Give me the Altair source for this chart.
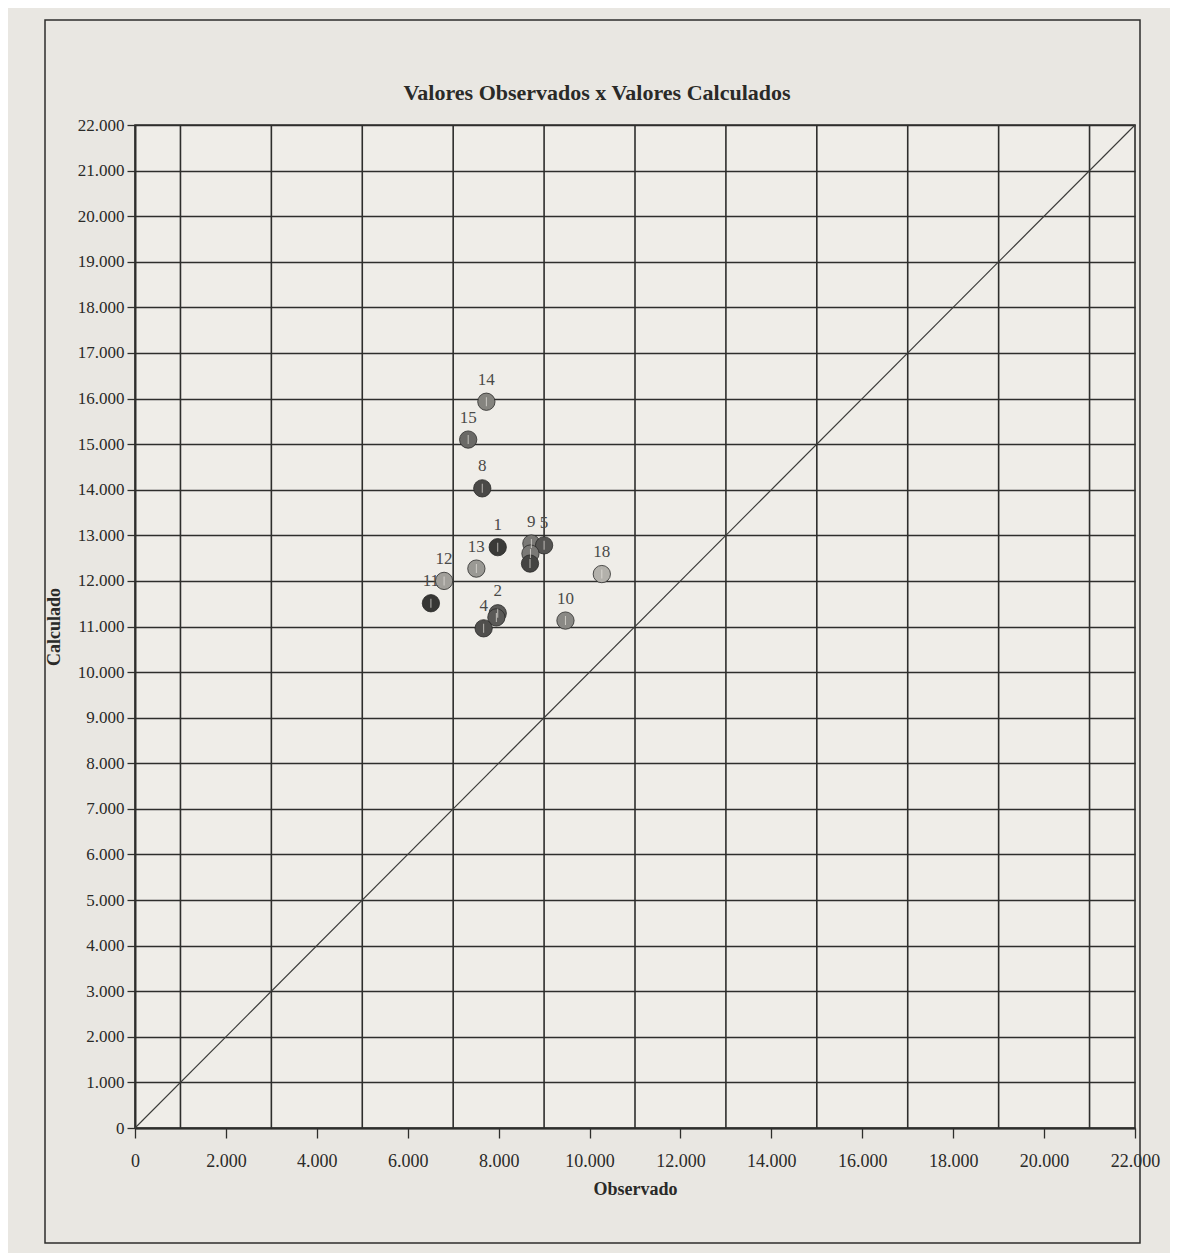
import altair as alt
import pandas as pd

# Point data
ids = ["14", "15", "8", "1", "13", "12", "11", "2", "6", "4", "10", "18", "9", "5", "3", "7"]
observado = [7730, 7330, 7640, 7980, 7510, 6800, 6510, 7980, 7950, 7670, 9470, 10270, 8720, 9000, 8700, 8690]
calculado = [15930, 15100, 14030, 12740, 12270, 12000, 11510, 11290, 11200, 10960, 11130, 12150, 12820, 12780, 12600, 12380]
shades = ["#85847f", "#6a6966", "#4a4947", "#3a3a38", "#9a9994", "#a19f9a", "#363634", "#5a5957",
          "#5a5957", "#504f4d", "#8a8985", "#b3b1ab", "#7a7976", "#555452", "#7a7976", "#444442"]
# labels hidden behind other markers in the picture
hidden_labels = ["6", "3", "7"]

title_text = "Valores Observados x Valores Calculados"

# Axis values
x_ticks = [0, 2000, 4000, 6000, 8000, 10000, 12000, 14000, 16000, 18000, 20000, 22000]
x_grid = [1000, 3000, 5000, 7000, 9000, 11000, 13000, 15000, 17000, 19000, 21000]
y_ticks = list(range(0, 22001, 1000))
diag = [0, 22000]

pts = pd.DataFrame({"id": ids, "obs": observado, "calc": calculado, "shade": shades})
lab = pts[~pts["id"].isin(hidden_labels)]
grid_df = pd.DataFrame({"obs": x_grid})
diag_df = pd.DataFrame({"obs": diag, "calc": diag})
one = pd.DataFrame({"t": [title_text]})

fmt = "replace(format(datum.value, ','), ',', '.')"
SERIF = "Liberation Serif"

xscale = alt.Scale(domain=[0, 22000], nice=False, zero=True)
yscale = alt.Scale(domain=[0, 22000], nice=False, zero=True)

xaxis = alt.Axis(values=x_ticks, labelExpr=fmt, grid=False, title="Observado",
                 tickSize=10, labelPadding=14, titlePadding=10, labelFontSize=18,
                 labelFlush=False, labelOverlap=False)
yaxis = alt.Axis(values=y_ticks, labelExpr=fmt, grid=True, title="Calculado",
                 tickSize=8, labelPadding=3, titlePadding=14, labelFlush=False,
                 labelOverlap=False)

X = alt.X("obs:Q", scale=xscale, axis=xaxis)
Y = alt.Y("calc:Q", scale=yscale, axis=yaxis)

frame = alt.Chart(one).mark_rect(
    fill=None, stroke="#2e2e2c", strokeWidth=1.5
).encode(x=alt.value(-90), x2=alt.value(1005), y=alt.value(-105), y2=alt.value(1118))

title = alt.Chart(one).mark_text(
    font=SERIF, fontSize=22, fontWeight="bold", color="#2a2a28", align="center", baseline="middle"
).encode(x=alt.value(462), y=alt.value(-32), text="t:N")

vgrid = alt.Chart(grid_df).mark_rule(color="#2e2e2c", strokeWidth=1.6).encode(x=X)

line = alt.Chart(diag_df).mark_line(color="#3a3a38", strokeWidth=1.1).encode(x=X, y=Y)

points = alt.Chart(pts).mark_point(filled=True, size=300, shape="circle", opacity=1,
                                    stroke="#2a2a28", strokeWidth=0.8).encode(
    x=X, y=Y,
    fill=alt.Fill("shade:N", scale=None, legend=None),
)

marks = alt.Chart(pts).mark_tick(orient="vertical", color="#e8e6e0", thickness=1, size=9).encode(
    x=X, y=Y,
)

labels = alt.Chart(lab).mark_text(font=SERIF, fontSize=17, color="#4a4a48", dy=-22).encode(
    x=X, y=Y, text="id:N",
)

chart = alt.layer(vgrid, line, points, marks, labels, frame, title).properties(
    width=1000,
    height=1003,
    autosize=alt.AutoSizeParams(type="none"),
    padding={"left": 127, "top": 117, "right": 35, "bottom": 125},
    background="#e9e7e2",
).configure_view(
    stroke="#2e2e2c", strokeWidth=1.6, fill="#efede8"
).configure_axis(
    domainColor="#2e2e2c", domainWidth=2, tickColor="#2e2e2c", tickWidth=1.3,
    gridColor="#2e2e2c", gridWidth=1.6, gridOpacity=1,
    labelFont=SERIF, labelFontSize=17, labelColor="#2a2a28",
    titleFont=SERIF, titleFontSize=18, titleFontWeight="bold", titleColor="#2a2a28",
)

chart.save("out.html", embed_options={"renderer": "svg", "actions": False})
